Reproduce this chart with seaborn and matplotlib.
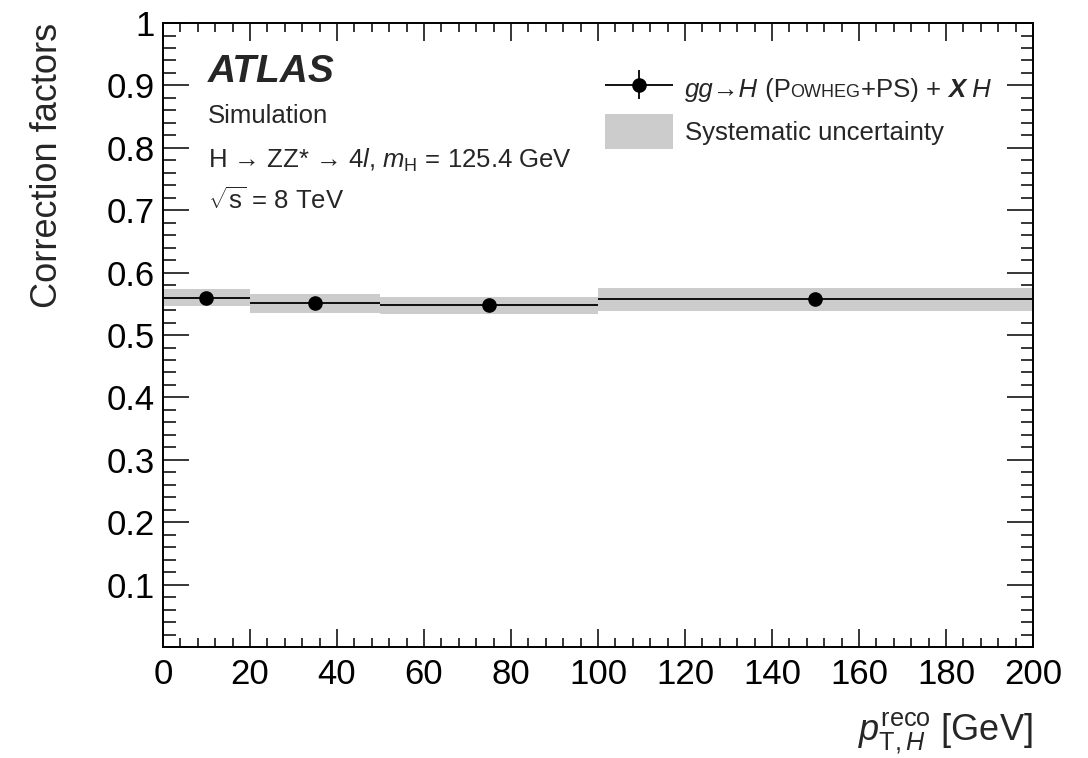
import seaborn as sns
import matplotlib.pyplot as plt
from matplotlib.ticker import MultipleLocator, FuncFormatter
from matplotlib.legend_handler import HandlerErrorbar

# correction factors vs reconstructed Higgs pT, with systematic band

bin_edges = [0, 20, 50, 100, 200]
bin_centers = [10, 35, 75, 150]
corr_factors = [0.560, 0.551, 0.548, 0.557]
sys_low = [0.546, 0.535, 0.533, 0.538]
sys_high = [0.574, 0.566, 0.561, 0.575]

sns.set_style("ticks")
plt.rcParams['font.family'] = ['Liberation Sans', 'DejaVu Sans']
plt.rcParams['mathtext.fontset'] = 'custom'
plt.rcParams['mathtext.rm'] = 'Liberation Sans'
plt.rcParams['mathtext.it'] = 'Liberation Sans:italic'
plt.rcParams['mathtext.bf'] = 'Liberation Sans:bold'

fig = plt.figure(figsize=(10.88, 7.58), dpi=100)
ax = fig.add_axes([0.1498, 0.1464, 0.7996, 0.8232])

widths = [bin_edges[i + 1] - bin_edges[i] for i in range(len(bin_centers))]
half_widths = [w / 2 for w in widths]
heights = [h - l for h, l in zip(sys_high, sys_low)]

band = ax.bar(bin_edges[:-1], heights, width=widths, bottom=sys_low, align='edge',
              color='#cccccc', linewidth=0, label='Systematic uncertainty', zorder=1)
pts = ax.errorbar(bin_centers, corr_factors, xerr=half_widths, yerr=[0.002] * 4,
                  fmt='o', color='black', markersize=9.5, elinewidth=1.3,
                  capsize=0, label='gg→H', zorder=3)

ax.set_xlim(0, 200)
ax.set_ylim(0, 1)
ax.xaxis.set_major_locator(MultipleLocator(20))
ax.xaxis.set_minor_locator(MultipleLocator(4))
ax.yaxis.set_major_locator(MultipleLocator(0.1))
ax.yaxis.set_minor_locator(MultipleLocator(0.02))
ax.yaxis.set_major_formatter(FuncFormatter(lambda v, p: '' if abs(v) < 1e-9 else f'{v:g}'))

ax.tick_params(which='both', direction='in', top=True, right=True, width=1.1,
               colors='black', labelsize=25)
ax.tick_params(axis='y', which='major', length=19, pad=6)
ax.tick_params(axis='y', which='minor', length=9)
ax.tick_params(axis='x', which='major', length=13, pad=8)
ax.tick_params(axis='x', which='minor', length=6.5)
for sp in ax.spines.values():
    sp.set_linewidth(1.4)
    sp.set_color('black')

ax.set_ylabel('Correction factors', fontsize=26, loc='top', labelpad=30)
ax.set_xlabel(r'$p_{\mathrm{T},H}^{\mathrm{reco}}$ [GeV]', fontsize=26, loc='right', labelpad=14)

ax.text(0.052, 0.921, 'ATLAS', transform=ax.transAxes, fontsize=28,
        fontweight='bold', fontstyle='italic', va='center')
ax.text(0.052, 0.851, 'Simulation', transform=ax.transAxes, fontsize=18.5, va='center')
ax.text(0.052, 0.780, r'H → ZZ* → 4$l$, $m_{\mathrm{H}}$ = 125.4 GeV',
        transform=ax.transAxes, fontsize=18.5, va='center')
ax.text(0.052, 0.716, r'$\sqrt{\mathrm{s}}$ = 8 TeV', transform=ax.transAxes, fontsize=18.5, va='center')

leg = ax.legend([pts, band], ['gg→H', 'Systematic uncertainty'],
                loc='upper left', bbox_to_anchor=(0.508, 0.922), frameon=False,
                fontsize=18.5, handlelength=2.65, handleheight=1.7,
                handletextpad=0.45, labelspacing=0.3, borderpad=0, borderaxespad=0,
                handler_map={type(pts): HandlerErrorbar(xerr_size=1.32, yerr_size=0.56)})
leg.get_texts()[0].set_fontstyle('italic')

# rest of the first legend label, with small caps for Powheg
first = leg.get_texts()[0]
pieces = [(' (P', 18.5, 'normal', 'normal', 0),
          ('OWHEG', 13, 'normal', 'normal', 1.2),
          ('+PS) + ', 18.5, 'normal', 'normal', 0),
          ('X', 18.5, 'bold', 'italic', 0),
          (' H', 18.5, 'normal', 'italic', 0)]
prev = first
base = None
for txt, size, weight, style, dy in pieces:
    if base is None:
        a = ax.annotate(txt, xy=(1, 0), xycoords=first, xytext=(0, 0),
                        textcoords='offset points', fontsize=size, fontweight=weight,
                        fontstyle=style, ha='left', va='bottom', zorder=6)
        base = a
    else:
        a = ax.annotate(txt, xy=(1, 0), xycoords=(prev, base), xytext=(0, dy),
                        textcoords='offset points', fontsize=size, fontweight=weight,
                        fontstyle=style, ha='left', va='bottom', zorder=6)
    prev = a

fig.savefig('out.png', dpi=100, facecolor='white')
